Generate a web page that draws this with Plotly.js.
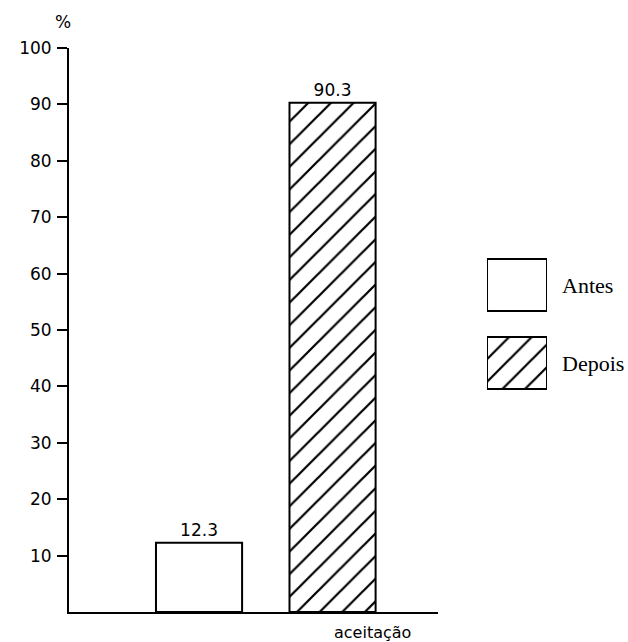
<!DOCTYPE html>
<html>
<head>
<meta charset="utf-8">
<script src="https://cdn.plot.ly/plotly-3.0.1.min.js"></script>
<style>html,body{margin:0;padding:0;background:#fff;}#chart{width:628px;height:642px;}</style>
</head>
<body>
<div id="chart"></div>
<script>
var categories = ['Antes', 'Depois'];
var values = [12.3, 90.3];
var valueLabels = ['12.3', '90.3'];
var patterns = ['', '/'];
var yTicks = [10, 20, 30, 40, 50, 60, 70, 80, 90, 100];
var xLabel = 'aceitação';
var yUnit = '%';

var numFont = {family: 'DejaVu Sans', size: 17, color: '#000'};
var serifFont = {family: 'Liberation Serif', size: 22, color: '#000'};

var mainBars = {
  type: 'bar',
  x: categories.map(function(c, i){ return i; }),
  y: values,
  text: valueLabels,
  textposition: 'outside',
  cliponaxis: false,
  textfont: numFont,
  width: 0.645,
  marker: {
    color: '#fff',
    line: {color: '#000', width: 2},
    pattern: {shape: patterns, fgcolor: '#000', bgcolor: '#fff', size: 16, solidity: 0.14}
  },
  hoverinfo: 'none',
  showlegend: false
};

var legendBars = {
  type: 'bar',
  orientation: 'h',
  xaxis: 'x2', yaxis: 'y2',
  y: categories,
  x: categories.map(function(){ return 1; }),
  width: 0.667,
  marker: {
    color: '#fff',
    line: {color: '#000', width: 2},
    pattern: {shape: patterns, fgcolor: '#000', bgcolor: '#fff', size: 16, solidity: 0.14}
  },
  hoverinfo: 'none',
  showlegend: false
};

var layout = {
  width: 628, height: 642,
  margin: {l: 69, r: 81, t: 48, b: 30},
  paper_bgcolor: '#fff', plot_bgcolor: '#fff',
  showlegend: false,
  xaxis: {
    domain: [0, 0.772],
    range: [-0.974, 1.79],
    showline: true, linecolor: '#000', linewidth: 1.5,
    showticklabels: false, ticks: '', showgrid: false, zeroline: false
  },
  yaxis: {
    range: [0, 100],
    tickvals: yTicks,
    ticks: 'outside', ticklen: 10, tickwidth: 2, tickcolor: '#000',
    ticklabelstandoff: 2,
    showline: true, linecolor: '#000', linewidth: 2,
    showgrid: false, zeroline: false,
    tickfont: numFont
  },
  xaxis2: {
    domain: [0.8745, 1], anchor: 'y2', range: [0, 1],
    showline: false, showticklabels: false, ticks: '', showgrid: false, zeroline: false
  },
  yaxis2: {
    domain: [0.3723, 0.6489], anchor: 'x2', side: 'right',
    type: 'category', range: [1.5, -0.5],
    showline: false, ticks: '', showgrid: false, zeroline: false,
    ticklabelstandoff: 14,
    tickfont: serifFont
  },
  annotations: [
    {text: xLabel, xref: 'paper', x: 0.634, xanchor: 'center', yref: 'paper', y: 0, yanchor: 'top', yshift: -9, showarrow: false, font: {family: 'DejaVu Sans', size: 16, color: '#000'}},
    {text: yUnit, xref: 'paper', x: 0, xanchor: 'center', xshift: -6, yref: 'paper', y: 1, yanchor: 'middle', yshift: 26, showarrow: false, font: numFont}
  ]
};

Plotly.newPlot('chart', [mainBars, legendBars], layout, {staticPlot: true, displayModeBar: false});
</script>
</body>
</html>
